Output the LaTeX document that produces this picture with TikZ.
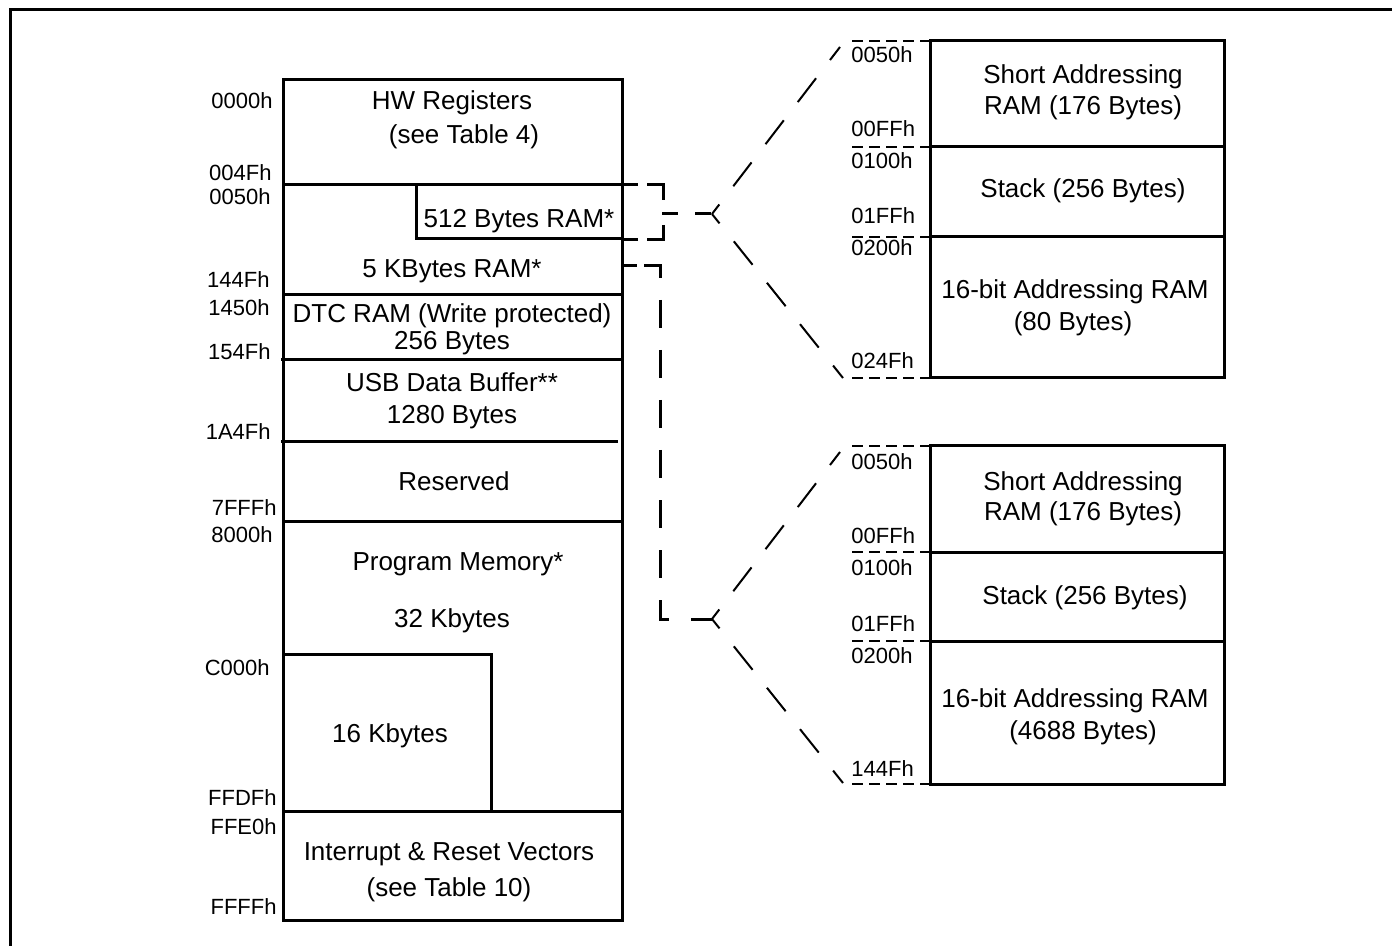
\documentclass[tikz,border=0pt]{standalone}
\usepackage{fontspec}
\setmainfont{Liberation Sans}
\begin{document}
\begin{tikzpicture}[x=0.5pt,y=-0.5pt,
  solid box/.style={line width=1.5pt},
  txt/.style={font=\fontsize{13}{15.6}\selectfont, inner sep=0pt, anchor=base},
  laddr/.style={font=\fontsize{11}{13}\selectfont, inner sep=0pt, anchor=base east},
  raddr/.style={font=\fontsize{11}{13}\selectfont, inner sep=0pt, anchor=base west},
  bracketA/.style={line width=1.5pt, dash pattern=on 8pt off 4.5pt on 15.5pt off 12.5pt on 15.5pt off 4.5pt on 8pt off 10pt},
  bracketB/.style={line width=1.5pt, dash pattern=on 14pt off 11pt, dash phase=14pt},
  stub/.style={line width=1.5pt, dash pattern=on 8pt off 8.5pt},
  fan/.style={line width=1pt, dash pattern=on 15pt off 11.5pt, dash phase=9pt},
  tick/.style={line width=1pt, dash pattern=on 5.5pt off 3pt}]
\useasboundingbox (0,0) rectangle (1392,946);
% outer frame
\draw[line width=1.5pt] (10,946) -- (10,10) -- (1392,10);

% main memory map
\draw[solid box] (283,80) rectangle (622,920);
\draw[solid box] (283,185) -- (622,185);
\draw[solid box] (416,185) rectangle (622,239);
\draw[solid box] (283,295) -- (622,295);
\draw[solid box] (281,360) -- (622,360);
\draw[solid box] (281,442) -- (618,442);
\draw[solid box] (283,521) -- (622,521);
\draw[solid box] (283,654) -- (491,654) -- (491,811);
\draw[solid box] (283,811) -- (622,811);

\node[txt] (hw1) at (452,110) {HW Registers};
\node[txt] (hw2) at (464,144) {(see Table 4)};
\node[txt] (r512) at (519,228) {512 Bytes RAM*};
\node[txt] (r5k) at (452,278) {5 KBytes RAM*};
\node[txt] (dtc1) at (452,323) {DTC RAM (Write protected)};
\node[txt] (dtc2) at (452,350) {256 Bytes};
\node[txt] (usb1) at (452,392) {USB Data Buffer**};
\node[txt] (usb2) at (452,424) {1280 Bytes};
\node[txt] (res) at (454,490) {Reserved};
\node[txt] (pm) at (458,570) {Program Memory*};
\node[txt] (k32) at (452,627) {32 Kbytes};
\node[txt] (k16) at (390,742) {16 Kbytes};
\node[txt] (iv1) at (449,860) {Interrupt \& Reset Vectors};
\node[txt] (iv2) at (449,896) {(see Table 10)};

% left addresses
\node[laddr] (a0000) at (273,109) {0000h};
\node[laddr] (a004F) at (272,181) {004Fh};
\node[laddr] (a0050) at (271,205) {0050h};
\node[laddr] (a144F) at (270,288) {144Fh};
\node[laddr] (a1450) at (270,316) {1450h};
\node[laddr] (a154F) at (271,360) {154Fh};
\node[laddr] (a1A4F) at (271,440) {1A4Fh};
\node[laddr] (a7FFF) at (277,516) {7FFFh};
\node[laddr] (a8000) at (273,542) {8000h};
\node[laddr] (aC000) at (270,675) {C000h};
\node[laddr] (aFFDF) at (277,805) {FFDFh};
\node[laddr] (aFFE0) at (277,834) {FFE0h};
\node[laddr] (aFFFF) at (277,914) {FFFFh};

% upper right box
\draw[solid box] (930,41) rectangle (1224,378);
\draw[solid box] (930,147) -- (1224,147);
\draw[solid box] (930,237) -- (1224,237);
\foreach \yy in {41,147,237,378} \draw[tick] (852,\yy) -- (930,\yy);
\node[txt] (ua1) at (1083,84) {Short Addressing};
\node[txt] (ua2) at (1083,115) {RAM (176 Bytes)};
\node[txt] (us) at (1083,198) {Stack (256 Bytes)};
\node[txt] (ub1) at (1075,299) {16-bit Addressing RAM};
\node[txt] (ub2) at (1073,331) {(80 Bytes)};
\node[raddr] (u0050) at (851,63) {0050h};
\node[raddr] (u00FF) at (851,137) {00FFh};
\node[raddr] (u0100) at (851,169) {0100h};
\node[raddr] (u01FF) at (851,224) {01FFh};
\node[raddr] (u0200) at (851,256) {0200h};
\node[raddr] (u024F) at (851,369) {024Fh};

% lower right box
\draw[solid box] (930,446) rectangle (1224,784);
\draw[solid box] (930,552) -- (1224,552);
\draw[solid box] (930,641) -- (1224,641);
\foreach \yy in {446,552,641,784} \draw[tick] (852,\yy) -- (930,\yy);
\node[txt] (la1) at (1083,490) {Short Addressing};
\node[txt] (la2) at (1083,520) {RAM (176 Bytes)};
\node[txt] (ls) at (1085,604) {Stack (256 Bytes)};
\node[txt] (lb1) at (1075,707) {16-bit Addressing RAM};
\node[txt] (lb2) at (1083,739) {(4688 Bytes)};
\node[raddr] (l0050) at (851,470) {0050h};
\node[raddr] (l00FF) at (851,543) {00FFh};
\node[raddr] (l0100) at (851,575) {0100h};
\node[raddr] (l01FF) at (851,631) {01FFh};
\node[raddr] (l0200) at (851,663) {0200h};
\node[raddr] (l144F) at (851,776) {144Fh};

% connectors
\coordinate (b1) at (712,214);
\coordinate (b1m) at (662,214);
\coordinate (u1t) at (840,47);
\coordinate (u1b) at (843,378);
\coordinate (b2) at (712,619);
\coordinate (u2t) at (840,452);
\coordinate (u2b) at (843,783);

\draw[bracketA] (622,185) -- (663,185) -- (663,240) -- (622,240);
\draw[stub] (b1m) -- (b1);
\draw[fan] (b1) -- (u1t);
\draw[fan] (b1) -- (u1b);

\draw[solid box] (622,266) -- (637,266);
\draw[bracketB] (622,266) -- (660,266) -- (660,619) -- (b2);
\draw[fan] (b2) -- (u2t);
\draw[fan] (b2) -- (u2b);
\end{tikzpicture}
\end{document}
